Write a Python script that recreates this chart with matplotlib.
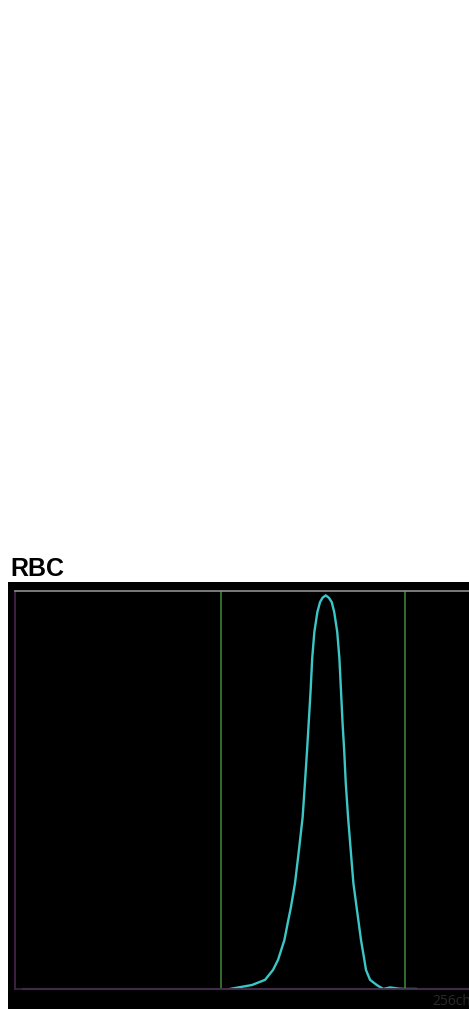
import matplotlib
matplotlib.use("Agg")
import matplotlib.pyplot as plt

# RBC histogram: channel (0-256) vs relative height (%)
channels = [121.2, 124.1, 133.6, 141.0, 145.5, 148.3, 151.9, 154.1, 155.6, 157.9,
            160.1, 162.2, 163.5, 164.7, 165.6, 166.7, 167.6, 168.8, 170.5, 172.0,
            173.4, 175.2, 177.0, 178.6, 180.0, 181.7, 182.9, 183.8, 184.7, 185.6,
            186.5, 187.8, 189.3, 190.8, 192.6, 193.6, 195.1, 197.0, 197.9, 200.2,
            204.0, 207.7, 211.5, 216.1, 219.9, 226.5]
counts = [0.0, 0.25, 1.0, 2.3, 4.8, 7.3, 12.3, 17.3, 20.6, 26.6,
          34.9, 43.2, 51.8, 60.1, 66.8, 75.1, 83.2, 89.7, 94.7, 97.2,
          98.3, 98.9, 98.3, 97.2, 94.7, 89.7, 83.2, 75.1, 66.8, 60.1,
          51.8, 43.2, 34.9, 26.6, 20.6, 17.3, 12.3, 7.3, 4.8, 2.3,
          1.0, 0.0, 0.4, 0.1, 0.0, 0.0]
discriminators = [116.2, 219.9]
title = "RBC"
channel_label = "256ch"

W, H = 469, 1009
fig = plt.figure(figsize=(W / 100, H / 100), dpi=100)
fig.patch.set_facecolor("white")

# black panel behind the histogram
panel = fig.add_axes([8 / W, 0, (W - 8) / W, 427 / H])
panel.set_facecolor("black")
panel.set_xticks([])
panel.set_yticks([])
for s in panel.spines.values():
    s.set_visible(False)

# plotting area
ax = fig.add_axes([15 / W, 20 / H, (W - 15) / W, 398 / H])
ax.set_facecolor("black")
ax.set_xlim(0, 256)
ax.set_ylim(0, 100)
ax.set_xticks([])
ax.set_yticks([])
ax.spines["right"].set_visible(False)
ax.spines["left"].set_color("#4a2350")
ax.spines["bottom"].set_color("#3e2540")
ax.spines["top"].set_color("#8f8f8f")
for s in ax.spines.values():
    s.set_linewidth(1.2)

ax.plot([4.5, 256], [0, 0], color="#4c5478", lw=1.5, clip_on=False)
for d in discriminators:
    ax.axvline(d, color="#3f8a3a", lw=1.1)
ax.plot(channels, counts, color="#3cc6c6", lw=1.7,
        solid_joinstyle="round", solid_capstyle="round")

fig.text(10 / W, 1 - 576 / H, title, fontsize=18, fontweight="bold",
         family=["Liberation Sans", "DejaVu Sans"], ha="left", va="baseline")
fig.text(471 / W, 1 - 1005 / H, channel_label, fontsize=10, color="#2a2a2a",
         family=["Open Sans", "DejaVu Sans"], ha="right", va="baseline")

fig.savefig("out.png", dpi=100, facecolor="white")
